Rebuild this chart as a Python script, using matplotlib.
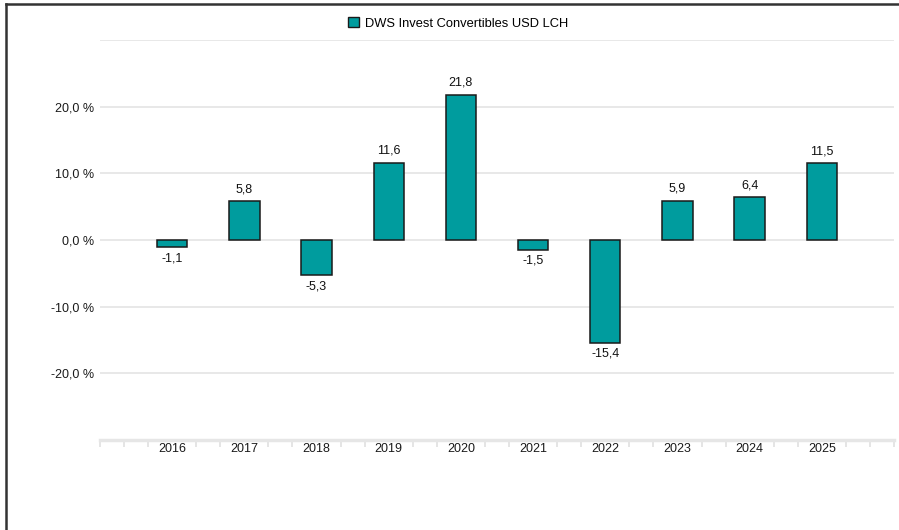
import matplotlib
matplotlib.use("Agg")
import matplotlib.pyplot as plt
from matplotlib.lines import Line2D
from matplotlib.patches import Patch
import numpy as np

years = ["2016", "2017", "2018", "2019", "2020", "2021", "2022", "2023", "2024", "2025"]
values = [-1.1, 5.8, -5.3, 11.6, 21.8, -1.5, -15.4, 5.9, 6.4, 11.5]
series_name = "DWS Invest Convertibles USD LCH"
ytick_vals = [-20, -10, 0, 10, 20]

plt.rcParams['font.family'] = ['Liberation Sans', 'DejaVu Sans']

W, H = 899, 530
fig = plt.figure(figsize=(W / 100, H / 100), dpi=100)
ax = fig.add_axes([100 / W, (H - 440) / H, 794 / W, 400 / H])

bar_color = '#009C9E'
x = np.arange(len(years))
ax.bar(x, values, width=0.42, color=bar_color, edgecolor='#1a1a1a', linewidth=1.1, zorder=3)

for xi, v in zip(x, values):
    lbl = f"{v:.1f}".replace('.', ',')
    if v >= 0:
        ax.annotate(lbl, (xi, v), xytext=(0, 4.5), textcoords='offset points',
                    ha='center', va='bottom', fontsize=9, color='#111111')
    else:
        ax.annotate(lbl, (xi, v), xytext=(0, -3.5), textcoords='offset points',
                    ha='center', va='top', fontsize=9, color='#111111')

ax.set_xlim(-1, 10)
ax.set_ylim(-30, 30)

for g in [-20, -10, 0, 10, 20, 30]:
    ax.axhline(g, color='#e6e6e6', linewidth=1.3, zorder=1)

ax.set_yticks(ytick_vals)
ax.set_yticklabels([f"{v:.1f} %".replace('.', ',') for v in ytick_vals], fontsize=9, color='#1a1a1a')
ax.tick_params(axis='y', length=0, pad=4)

ax.set_xticks(x)
ax.set_xticklabels(years, fontsize=9, color='#1a1a1a')
ax.tick_params(axis='x', length=0, pad=2)

minor = [k / 3 for k in range(-3, 31) if not (k % 3 == 0 and 0 <= k // 3 <= 9)]
ax.set_xticks(minor, minor=True)
ax.tick_params(axis='x', which='minor', length=5, width=1.2, color='#e0e0e0')

for s in ['top', 'right', 'left']:
    ax.spines[s].set_visible(False)
ax.spines['bottom'].set_color('#e6e6e6')
ax.spines['bottom'].set_linewidth(2.5)

leg = fig.legend(handles=[Patch(facecolor=bar_color, edgecolor='#1a1a1a', linewidth=1.0, label=series_name)],
                 loc='center', bbox_to_anchor=(458 / W, 1 - 23.5 / H), frameon=False,
                 fontsize=9.3, handlelength=0.85, handleheight=0.85, handletextpad=0.5)

fig.add_artist(Line2D([5.5 / W, 5.5 / W], [0, 1 - 3.5 / H], color='#333333', linewidth=1.8))
fig.add_artist(Line2D([5.5 / W, 1], [1 - 3.5 / H, 1 - 3.5 / H], color='#333333', linewidth=1.8))

fig.savefig("out.png", dpi=100)
